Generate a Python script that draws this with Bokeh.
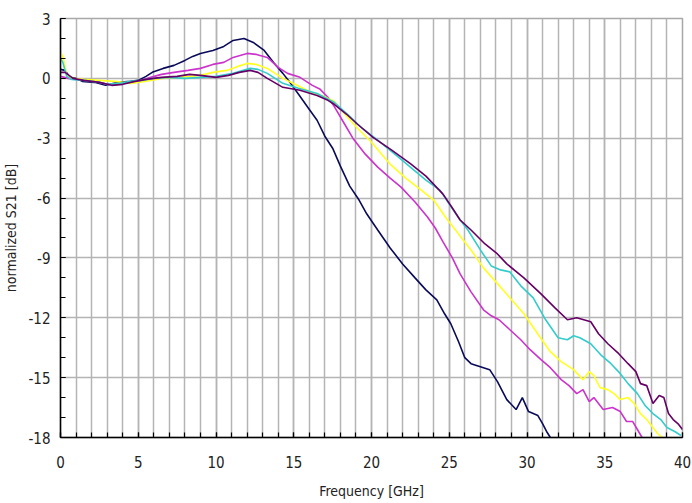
from bokeh.plotting import figure
from bokeh.models import Range1d, FixedTicker
from bokeh.embed import file_html
from bokeh.resources import INLINE

# Normalized S21 traces, frequency in GHz, magnitude in dB
navy_f = [0.0, 0.3, 0.6, 1.0, 1.4, 2.2, 2.9, 3.7, 4.5, 5.0, 5.5, 5.9, 6.6, 7.3, 8.0, 8.5, 9.0, 9.8,
          10.5, 11.1, 11.8, 12.4, 13.1, 13.7, 14.3, 14.8, 15.4, 15.9, 16.5, 17.0, 17.5, 18.0, 18.6,
          19.2, 19.7, 20.4, 21.2, 22.0, 22.8, 23.5, 24.2, 24.7, 25.1, 25.6, 26.0, 26.4, 26.8, 27.2,
          27.6, 28.1, 28.7, 29.3, 29.7, 30.1, 30.7, 31.0, 31.3, 31.5]
navy_db = [0.45, 0.4, 0.05, 0.0, -0.15, -0.2, -0.35, -0.2, -0.15, -0.1, 0.1, 0.3, 0.5, 0.65, 0.9,
           1.1, 1.25, 1.4, 1.6, 1.9, 2.0, 1.8, 1.4, 0.8, 0.25, -0.25, -0.9, -1.45, -2.1, -2.9, -3.5,
           -4.4, -5.4, -6.1, -6.8, -7.6, -8.5, -9.3, -10.0, -10.6, -11.1, -11.8, -12.3, -13.2, -14.0,
           -14.3, -14.4, -14.5, -14.6, -15.2, -16.1, -16.6, -16.0, -16.7, -16.9, -17.3, -17.75, -18.0]

magenta_f = [0.0, 0.5, 1.0, 2.0, 3.0, 3.6, 4.2, 5.0, 5.8, 6.5, 7.3, 8.2, 9.0, 9.8, 10.5, 11.1, 12.0,
             12.6, 13.3, 14.0, 14.6, 15.4, 16.2, 16.7, 17.2, 17.6, 18.2, 18.8, 19.6, 20.4, 21.2,
             21.9, 22.8, 23.6, 24.1, 24.6, 25.2, 25.7, 26.4, 27.2, 27.7, 28.2, 28.9, 29.6, 30.2,
             30.9, 31.5, 32.2, 32.7, 33.2, 33.6, 34.0, 34.3, 34.9, 35.5, 36.0, 36.4, 36.8, 37.1, 37.4]
magenta_db = [0.1, 0.0, -0.05, -0.1, -0.3, -0.3, -0.2, -0.15, 0.05, 0.2, 0.3, 0.4, 0.5, 0.7, 0.8,
              1.05, 1.25, 1.2, 1.05, 0.55, 0.25, 0.05, -0.35, -0.55, -0.95, -1.4, -2.2, -3.0, -3.8,
              -4.45, -5.0, -5.45, -6.2, -6.95, -7.5, -8.2, -9.0, -9.8, -10.7, -11.6, -11.9, -12.1,
              -12.6, -13.1, -13.6, -14.1, -14.5, -15.1, -15.4, -15.8, -15.6, -16.2, -16.0, -16.6,
              -16.5, -16.7, -17.2, -17.2, -17.6, -18.0]

yellow_f = [0.0, 0.15, 0.4, 0.7, 1.5, 2.5, 3.5, 4.5, 5.0, 5.8, 6.5, 7.5, 8.3, 9.0, 9.8, 10.7, 11.4,
            12.0, 12.6, 13.3, 14.3, 15.2, 16.1, 16.9, 17.6, 18.3, 19.1, 20.0, 21.2, 22.2, 23.2,
            24.0, 24.8, 25.5, 26.4, 27.2, 28.0, 28.9, 29.8, 30.6, 31.5, 32.2, 33.0, 33.6, 34.0,
            34.3, 34.7, 35.2, 35.6, 36.0, 36.5, 36.9, 37.3, 37.7, 38.1, 38.4, 38.7]
yellow_db = [1.3, 1.1, 0.2, 0.0, -0.05, -0.1, -0.15, -0.25, -0.2, -0.1, 0.0, 0.05, 0.1, 0.15, 0.3,
             0.4, 0.6, 0.75, 0.7, 0.5, 0.0, -0.35, -0.7, -0.9, -1.15, -1.8, -2.5, -3.2, -4.3, -5.0,
             -5.6, -6.1, -7.0, -7.7, -8.6, -9.5, -10.2, -11.0, -11.8, -12.7, -13.7, -14.2, -14.6,
             -15.1, -14.7, -14.9, -15.5, -15.6, -15.8, -16.1, -16.0, -16.3, -16.8, -17.1, -17.5,
             -17.8, -18.0]

cyan_f = [0.0, 0.15, 0.4, 0.7, 1.5, 2.5, 3.0, 3.8, 4.5, 5.2, 6.0, 7.0, 8.0, 9.0, 10.0, 11.1, 12.2,
          12.7, 13.3, 14.3, 15.3, 16.5, 17.6, 18.6, 19.4, 20.4, 21.5, 22.5, 23.5, 24.4, 25.0, 25.7,
          26.2, 27.0, 27.7, 28.3, 28.9, 29.6, 30.4, 31.2, 32.0, 32.6, 33.0, 33.4, 34.1, 34.8, 35.4,
          36.0, 36.5, 37.1, 37.6, 38.1, 38.6, 39.0, 39.5, 39.9]
cyan_db = [1.0, 0.8, 0.1, -0.05, -0.1, -0.2, -0.3, -0.25, -0.15, -0.1, 0.0, 0.05, 0.0, 0.05, 0.1,
           0.25, 0.5, 0.45, 0.25, -0.25, -0.5, -0.76, -1.2, -1.9, -2.5, -3.1, -3.8, -4.45, -5.1,
           -5.6, -6.3, -7.1, -7.6, -8.6, -9.4, -9.6, -9.7, -10.4, -11.0, -12.1, -13.0, -13.1, -12.9,
           -13.0, -13.3, -13.9, -14.3, -14.8, -15.3, -15.8, -16.4, -16.8, -17.1, -17.5, -17.7, -17.9]

purple_f = [0.0, 0.3, 0.8, 1.5, 2.5, 3.3, 4.0, 4.8, 5.5, 6.5, 7.5, 8.3, 9.0, 10.0, 10.8, 11.5, 12.2,
            12.7, 13.3, 14.3, 15.4, 16.5, 17.2, 17.6, 18.4, 19.1, 20.1, 21.3, 22.5, 23.5, 24.6,
            25.2, 25.7, 26.4, 27.3, 28.1, 28.7, 29.8, 30.9, 31.8, 32.6, 33.2, 34.1, 34.6, 35.2,
            35.9, 36.5, 37.0, 37.3, 37.7, 38.1, 38.5, 38.8, 39.1, 39.4, 39.7, 40.0]
purple_db = [0.3, 0.3, 0.0, -0.1, -0.2, -0.35, -0.3, -0.15, -0.05, 0.05, 0.1, 0.2, 0.15, 0.05,
             0.15, 0.3, 0.4, 0.3, 0.0, -0.45, -0.6, -0.86, -1.1, -1.3, -1.8, -2.3, -2.96, -3.6,
             -4.27, -4.9, -5.8, -6.5, -7.1, -7.6, -8.3, -8.8, -9.3, -10.0, -10.8, -11.5, -12.1,
             -12.0, -12.2, -12.8, -13.3, -13.8, -14.3, -14.7, -15.3, -15.4, -16.3, -15.9, -16.0,
             -16.8, -17.1, -17.3, -17.6]

x_ticks = [0, 5, 10, 15, 20, 25, 30, 35, 40]
y_ticks = [3, 0, -3, -6, -9, -12, -15, -18]

FONT = "'DejaVu Sans Condensed', 'Liberation Sans Narrow', 'Liberation Sans', sans-serif"

p = figure(width=692, height=503, output_backend="svg", toolbar_location=None,
           x_range=Range1d(0, 40), y_range=Range1d(-18, 3),
           min_border_left=60, min_border_right=10, min_border_top=18, min_border_bottom=66)
p.background_fill_color = "white"
p.border_fill_color = "white"
p.outline_line_color = "#a8a8a8"
p.outline_line_width = 1.5

series = [
    (navy_f, navy_db, "#0a0a5a"),
    (magenta_f, magenta_db, "#cc33cc"),
    (yellow_f, yellow_db, "#ffff22"),
    (cyan_f, cyan_db, "#33cccc"),
    (purple_f, purple_db, "#660066"),
]
for fx, fy, col in series:
    p.line(fx, fy, line_color=col, line_width=1.6)

# x axis: labels every 5 GHz, grid and ticks every 1 GHz
p.xaxis.ticker = FixedTicker(ticks=x_ticks, minor_ticks=list(range(0, 41)))
p.xaxis.major_label_overrides = {t: str(t) for t in x_ticks}
p.yaxis.ticker = FixedTicker(ticks=y_ticks, minor_ticks=list(range(-18, 4)))
p.yaxis.major_label_overrides = {t: str(t) for t in y_ticks}

for ax in (p.xaxis, p.yaxis):
    ax.axis_line_color = "black"
    ax.axis_line_width = 1.5
    ax.major_tick_in = 5
    ax.major_tick_out = 0
    ax.minor_tick_in = 5
    ax.minor_tick_out = 0
    ax.major_tick_line_color = "black"
    ax.minor_tick_line_color = "black"
    ax.major_tick_line_width = 1.2
    ax.minor_tick_line_width = 1.2
    ax.major_label_text_font = FONT
    ax.major_label_text_font_size = "15px"
    ax.major_label_text_color = "#222222"
    ax.axis_label_text_font = FONT
    ax.axis_label_text_font_size = "14px"
    ax.axis_label_text_font_style = "normal"
    ax.axis_label_text_color = "#222222"

p.xaxis.major_label_standoff = 18
p.yaxis.major_label_standoff = 10
p.xaxis.axis_label = "Frequency [GHz]"
p.yaxis.axis_label = "normalized S21 [dB]"
p.xaxis.axis_label_standoff = 12
p.yaxis.axis_label_standoff = 6

p.xgrid.grid_line_color = "#b4b4b4"
p.xgrid.grid_line_width = 1.5
p.xgrid.minor_grid_line_color = "#b4b4b4"
p.xgrid.minor_grid_line_width = 1.5
p.ygrid.grid_line_color = "#b4b4b4"
p.ygrid.grid_line_width = 1.5

open("out.html", "w").write(file_html(p, INLINE))
